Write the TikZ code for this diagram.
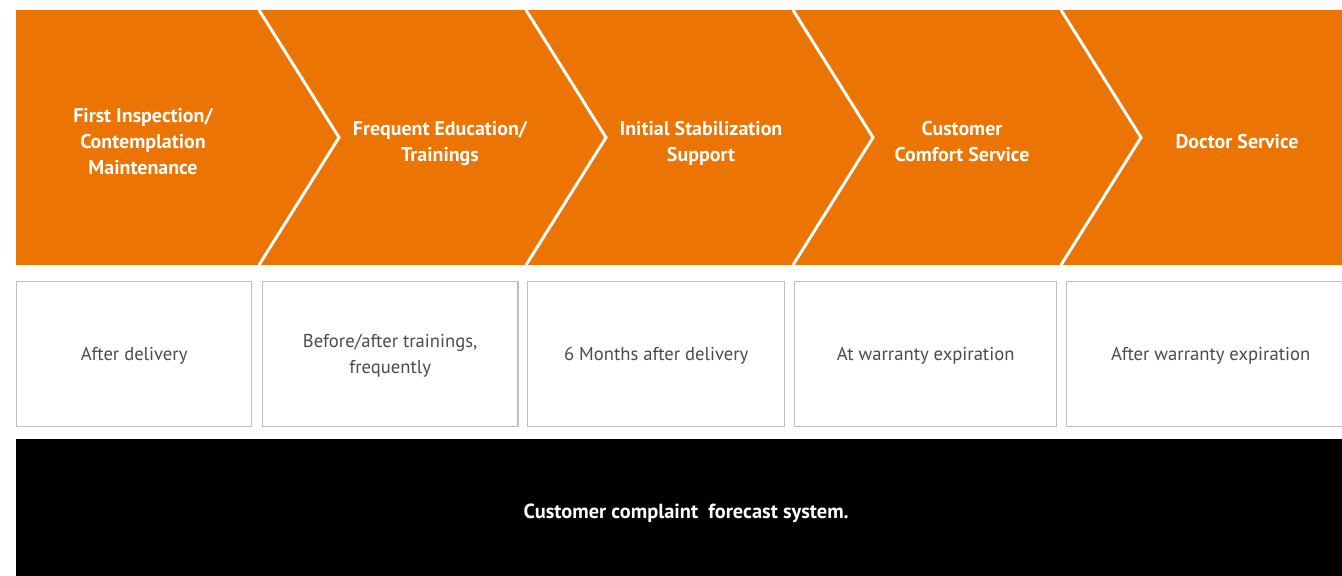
\documentclass[tikz,border=0pt]{standalone}
\usepackage{fontspec}
\setmainfont{PT Sans}
\definecolor{cssorange}{RGB}{236,116,2}
\definecolor{cssgray}  {RGB}{190,190,190}
\definecolor{csstext}  {RGB}{75,75,75}
\usetikzlibrary{positioning}
\tikzset{
  stage/.style={text=white,font=\fontsize{11.35}{14.8}\selectfont\bfseries,
                align=center,inner sep=0pt,text depth=0pt},
  timebox/.style={rectangle,draw=cssgray,line width=0.75pt,fill=white,
                  minimum width=#1,minimum height=2.9cm,anchor=north west,
                  text=csstext,font=\fontsize{10.6}{14.8}\selectfont,
                  align=center,text depth=0pt},
  sep/.style={white,line width=1.7pt,line join=miter},
}

\begin{document}
\begin{tikzpicture}[x=0.02cm,y=-0.02cm]
    \useasboundingbox (0,0) rectangle (1342,575);
    % orange process band
    \fill[cssorange] (16,10) rectangle (1342,265);
    \foreach \x in {259,526,793,1061}{
      \draw[sep] (\x,10) -- (\x+80,137.5) -- (\x,265);
    }
    \node[stage] (s1) at (143,141.5) {First Inspection/\\Contemplation\\Maintenance};
    \node[stage] (s2) at (440,141.5) {Frequent Education/\\Trainings};
    \node[stage] (s3) at (701,141.5) {Initial Stabilization\\Support};
    \node[stage] (s4) at (962,141.5) {Customer\\Comfort Service};
    \node[stage] (s5) at (1237,141.5) {Doctor Service};
    % timing boxes
    \node[timebox=4.7cm]  (t1) at (16,281)   {After delivery};
    \node[timebox=5.12cm] (t2) at (261.5,281) {Before/after trainings,\\frequently};
    \node[timebox=5.14cm] (t3) at (527,281)  {6 Months after delivery};
    \node[timebox=5.24cm] (t4) at (794,281)  {At warranty expiration};
    \node[timebox=5.76cm] (t5) at (1066,281) {After warranty expiration};
    % forecast bar
    \node[fill=black,text=white,anchor=north west,minimum width=26.8cm,
          minimum height=2.88cm,inner sep=0pt,text depth=0pt,
          font=\fontsize{11.6}{14.8}\selectfont\bfseries] (fcast) at (16,439)
          {Customer complaint\ \ forecast system.};
\end{tikzpicture}
\end{document}
